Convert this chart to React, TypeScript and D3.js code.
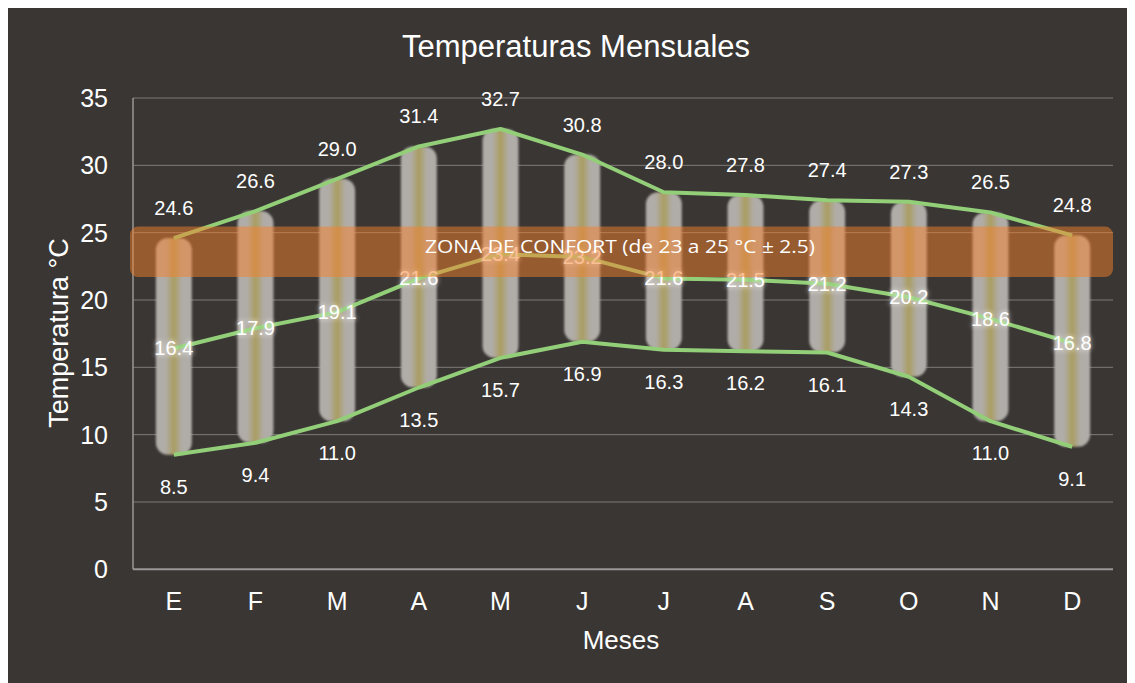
import React from "react";
import * as d3 from "d3";

const months = ["E", "F", "M", "A", "M", "J", "J", "A", "S", "O", "N", "D"];
const maxTemps = [24.6, 26.6, 29.0, 31.4, 32.7, 30.8, 28.0, 27.8, 27.4, 27.3, 26.5, 24.8];
const meanTemps = [16.4, 17.9, 19.1, 21.6, 23.4, 23.2, 21.6, 21.5, 21.2, 20.2, 18.6, 16.8];
const minTemps = [8.5, 9.4, 11.0, 13.5, 15.7, 16.9, 16.3, 16.2, 16.1, 14.3, 11.0, 9.1];
const yTicks = [0, 5, 10, 15, 20, 25, 30, 35];
const comfortLow = 21.7;
const comfortHigh = 25.45;
const comfortLabel = "ZONA DE CONFORT (de 23 a 25 °C ± 2.5)";

const W = 1135;
const H = 683;
const M = { left: 133, right: 1113, top: 98, bottom: 569.3 };
const FONT = "'Liberation Sans', Arial, Helvetica, sans-serif";

export default function App() {
  const idx = months.map((_, i) => i);
  const x = d3.scaleBand<number>().domain(idx).range([M.left, M.right]).padding(0);
  const y = d3.scaleLinear().domain([0, 35]).range([M.bottom, M.top]);
  const cx = (i: number) => (x(i) as number) + x.bandwidth() / 2;
  const barW = x.bandwidth() * 0.44;

  const line = (vals: number[]) =>
    d3
      .line<number>()
      .x((_, i) => cx(i))
      .y((v) => y(v))(vals) as string;

  const green = "#93cf78";

  return (
    <svg width={W - 8} height={H - 8} style={{ display: "block" }}>
      <defs>
        <linearGradient id="barGrad" x1="0" x2="1" y1="0" y2="0">
          <stop offset="0%" stopColor="#b0aca8" />
          <stop offset="28%" stopColor="#b0aca6" />
          <stop offset="50%" stopColor="#aa9d60" />
          <stop offset="72%" stopColor="#b0aca6" />
          <stop offset="100%" stopColor="#b0aca8" />
        </linearGradient>
        <filter id="soft" x="-20%" y="-5%" width="140%" height="110%">
          <feGaussianBlur stdDeviation="0.9" />
        </filter>
        <filter id="glow" x="-30%" y="-50%" width="160%" height="200%">
          <feGaussianBlur stdDeviation="2" />
        </filter>
      </defs>
      <g transform="translate(-8,-8)">
        <rect x={8} y={8} width={W - 8} height={H - 8} fill="#393634" />

        {/* title */}
        <text x={576} y={57} textAnchor="middle" fill="#ffffff" fontFamily={FONT} fontSize={31}>
          Temperaturas Mensuales
        </text>

        {/* gridlines */}
        {yTicks.map((t) => (
          <line
            key={"g" + t}
            x1={M.left}
            x2={M.right}
            y1={y(t)}
            y2={y(t)}
            stroke={t === 0 ? "#9a9896" : "#7d7b79"}
            strokeWidth={t === 0 ? 2 : 1}
          />
        ))}
        <line x1={M.left} x2={M.left} y1={M.top} y2={M.bottom} stroke="#9a9896" strokeWidth={1.5} />

        {/* y tick labels */}
        {yTicks.map((t) => (
          <text
            key={"yl" + t}
            x={108}
            y={y(t) + 9}
            textAnchor="end"
            fill="#ffffff"
            fontFamily={FONT}
            fontSize={25}
          >
            {t}
          </text>
        ))}

        {/* x labels */}
        {months.map((m, i) => (
          <text
            key={"xl" + i}
            x={cx(i)}
            y={610}
            textAnchor="middle"
            fill="#ffffff"
            fontFamily={FONT}
            fontSize={25}
          >
            {m}
          </text>
        ))}

        {/* axis titles */}
        <text x={621} y={649} textAnchor="middle" fill="#ffffff" fontFamily={FONT} fontSize={26}>
          Meses
        </text>
        <text
          transform={`translate(68,333) rotate(-90)`}
          textAnchor="middle"
          fill="#ffffff"
          fontFamily={FONT}
          fontSize={27}
        >
          Temperatura °C
        </text>

        {/* floating bars */}
        <g filter="url(#soft)">
          {idx.map((i) => (
            <rect
              key={"b" + i}
              x={cx(i) - barW / 2}
              y={y(maxTemps[i])}
              width={barW}
              height={y(minTemps[i]) - y(maxTemps[i])}
              rx={12}
              ry={12}
              fill="url(#barGrad)"
            />
          ))}
        </g>

        {/* lines */}
        <path d={line(maxTemps)} fill="none" stroke={green} strokeWidth={4} strokeLinejoin="round" />
        <path d={line(meanTemps)} fill="none" stroke={green} strokeWidth={4} strokeLinejoin="round" />
        <path d={line(minTemps)} fill="none" stroke={green} strokeWidth={4} strokeLinejoin="round" />

        {/* labels */}
        {idx.map((i) => (
          <text
            key={"mx" + i}
            x={cx(i)}
            y={y(maxTemps[i]) - 23}
            textAnchor="middle"
            fill="#ffffff"
            fontFamily={FONT}
            fontSize={20}
          >
            {maxTemps[i].toFixed(1)}
          </text>
        ))}
        {idx.map((i) => (
          <text
            key={"mn" + i}
            x={cx(i)}
            y={y(minTemps[i]) + 39}
            textAnchor="middle"
            fill="#ffffff"
            fontFamily={FONT}
            fontSize={20}
          >
            {minTemps[i].toFixed(1)}
          </text>
        ))}
        {idx.map((i) => (
          <g key={"me" + i}>
            <text
              x={cx(i)}
              y={y(meanTemps[i]) + 7}
              textAnchor="middle"
              fill="#ffffff"
              stroke="#ffffff"
              strokeOpacity={0.35}
              strokeWidth={4}
              fontFamily={FONT}
              fontSize={20}
              filter="url(#glow)"
              opacity={0.5}
            >
              {meanTemps[i].toFixed(1)}
            </text>
            <text
              x={cx(i)}
              y={y(meanTemps[i]) + 7}
              textAnchor="middle"
              fill="#ffffff"
              fontFamily={FONT}
              fontSize={20}
            >
              {meanTemps[i].toFixed(1)}
            </text>
          </g>
        ))}

        {/* comfort zone band */}
        <rect
          x={130}
          y={y(comfortHigh)}
          width={M.right - 130}
          height={y(comfortLow) - y(comfortHigh)}
          rx={8}
          ry={8}
          fill="#f57f2c"
          fillOpacity={0.5}
        />
        <text
          x={620}
          y={(y(comfortHigh) + y(comfortLow)) / 2 + 1}
          textAnchor="middle"
          fill="#ffffff"
          fontFamily="'Open Sans', 'Noto Sans', sans-serif"
          fontSize={19}
          textLength={390}
          lengthAdjust="spacingAndGlyphs"
        >
          {comfortLabel}
        </text>
      </g>
    </svg>
  );
}
